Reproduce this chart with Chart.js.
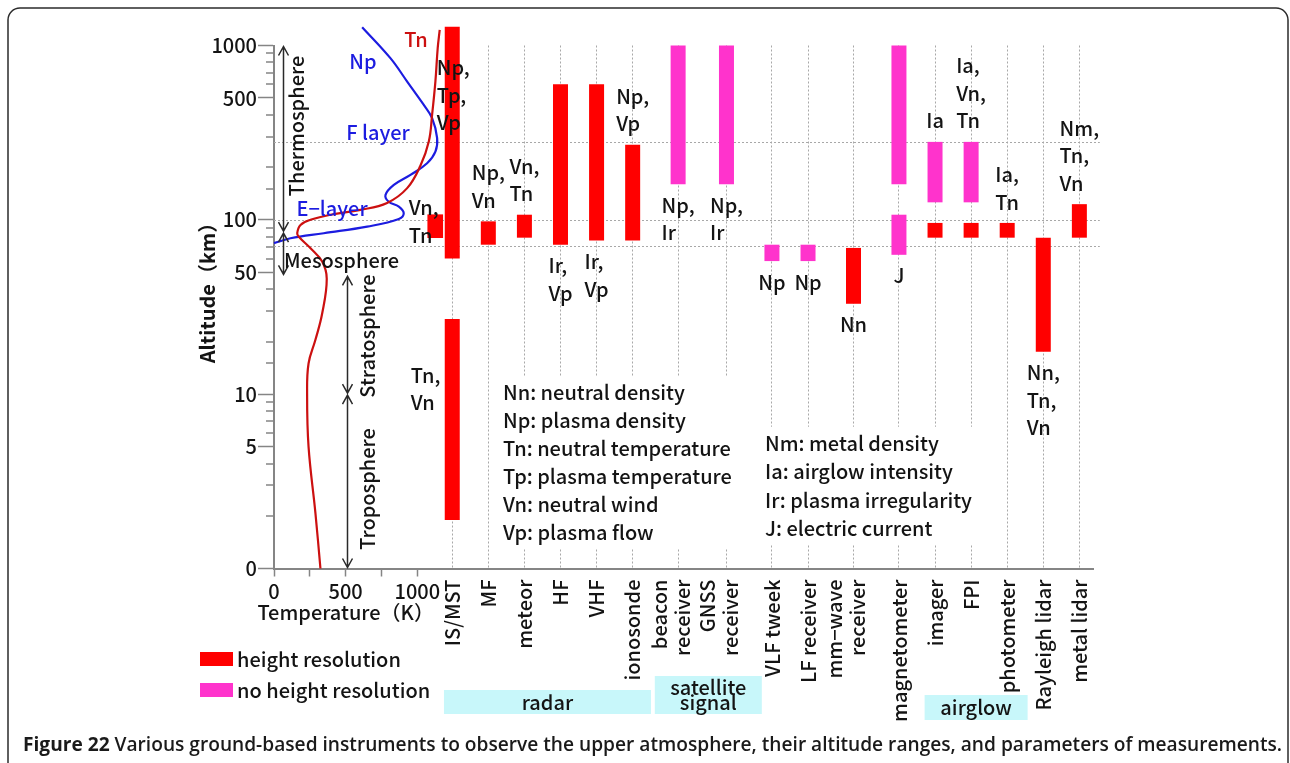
<!DOCTYPE html>
<html>
<head>
<meta charset="utf-8">
<script src="https://cdn.jsdelivr.net/npm/chart.js@4.4.1/dist/chart.umd.min.js"></script>
<style>
  html, body { margin: 0; padding: 0; background: #ffffff; overflow: hidden; }
  canvas { display: block; }
</style>
</head>
<body>
<canvas id="chart" width="1290" height="763"></canvas>
<script>
// ---- instruments ----
const instruments = ['IS/MST', 'MF', 'meteor', 'HF', 'VHF', 'ionosonde', 'beacon receiver', 'GNSS receiver',
  'VLF tweek', 'LF receiver', 'mm-wave receiver', 'magnetometer', 'imager', 'FPI', 'photometer',
  'Rayleigh lidar', 'metal lidar'];
const instrumentTicks = ['IS/MST', 'MF', 'meteor', 'HF', 'VHF', 'ionosonde', ['beacon', 'receiver'], ['GNSS', 'receiver'],
  'VLF tweek', 'LF receiver', ['mm\u2212wave', 'receiver'], 'magnetometer', 'imager', 'FPI', 'photometer',
  'Rayleigh lidar', 'metal lidar'];

// ---- altitude ranges in km, [bottom, top] ----
// with height resolution
const resolvedMain = [[60, 1280], [72, 98], [79, 107], [72, 600], [76, 600], [76, 270], null, null,
  null, null, [33, 69], null, [79, 96], [79, 96], [79, 96], [17.5, 79], [79, 123]];
const resolvedLower = [[1.9, 27], null, null, null, null, null, null, null,
  null, null, null, null, null, null, null, null, null];
const resolvedSide = [[79, 107], null, null, null, null, null, null, null,
  null, null, null, null, null, null, null, null, null];
// without height resolution
const unresolvedMain = [null, null, null, null, null, null, [160, 1000], [160, 1000],
  [58, 72], [58, 72], null, [160, 1000], [126, 280], [126, 280], null, null, null];
const unresolvedLower = [null, null, null, null, null, null, null, null,
  null, null, null, [63, 107], null, null, null, null, null];

// ---- measured parameters written next to each range ----
const resolvedMainNotes = ['Np,\nTp,\nVp', 'Np,\nVn', 'Vn,\nTn', 'Ir,\nVp', 'Ir,\nVp', 'Np,\nVp', '', '',
  '', '', 'Nn', '', '', '', 'Ia,\nTn', 'Nn,\nTn,\nVn', 'Nm,\nTn,\nVn'];
const resolvedLowerNotes = ['Tn,\nVn', '', '', '', '', '', '', '', '', '', '', '', '', '', '', '', ''];
const resolvedSideNotes = ['Vn,\nTn', '', '', '', '', '', '', '', '', '', '', '', '', '', '', '', ''];
const unresolvedMainNotes = ['', '', '', '', '', '', 'Np,\nIr', 'Np,\nIr',
  'Np', 'Np', '', '', 'Ia', 'Ia,\nVn,\nTn', '', '', ''];
const unresolvedLowerNotes = ['', '', '', '', '', '', '', '', '', '', '', 'J', '', '', '', '', ''];

// ---- background profiles ----
const tnTemp = [324, 289, 241, 231, 241, 289, 336, 368, 336, 255, 173, 162, 185, 255, 394, 603, 789, 929, 1022, 1080, 1103, 1126, 1142, 1156];
const tnAlt  = [1, 2.08, 5, 10, 15, 20.5, 29, 46, 57.6, 68.7, 80, 84, 93.5, 100, 107, 114, 125, 152, 205, 281, 401, 622, 966, 1230];
const npValue = [0, 115, 347, 650, 871, 905, 871, 800, 778, 836, 952, 1068, 1126, 1138, 1103, 1045, 929, 812, 615];
const npAlt   = [73.5, 78.4, 83.8, 91.4, 101, 109, 119, 127, 139, 158.5, 181, 211, 246, 294, 383, 456, 621, 846, 1274];

// ---- axes ----
const altTickValues = [1, 5, 10, 50, 100, 500, 1000];
const altTickText = ['0', '5', '10', '50', '100', '500', '1000'];
const tempTickValues = [0, 500, 1000];
const refAltitudes = [280, 100, 71];

// ---- atmospheric layers ----
const layerNames = ['Thermosphere', 'Mesosphere', 'Stratosphere', 'Troposphere'];
const layerTop = [1000, 85, 48, 10];
const layerBottom = [85, 48, 10, 1];

// ---- glossary and instrument groups ----
const glossaryA = ['Nn: neutral density', 'Np: plasma density', 'Tn: neutral temperature',
  'Tp: plasma temperature', 'Vn: neutral wind', 'Vp: plasma flow'];
const glossaryB = ['Nm: metal density', 'Ia: airglow intensity', 'Ir: plasma irregularity', 'J: electric current'];
const groupNames = ['radar', 'satellite\nsignal', 'airglow'];
const groupFirst = ['IS/MST', 'beacon receiver', 'imager'];
const groupLast = ['ionosonde', 'GNSS receiver', 'photometer'];

// ---- instrument slots: two-line names get a little more room around them ----
const lineCount = instrumentTicks.map(t => (Array.isArray(t) ? t.length : 1));
const slot = [];
lineCount.forEach((n, i) => {
  if (i === 0) { slot.push(0); return; }
  const a = lineCount[i - 1] > 1, b = n > 1;
  slot.push(slot[i - 1] + 1 + (a || b ? 0.26 : 0) + (a && b ? 0.08 : 0));
});
const atSlot = ranges => ranges.map((r, i) => ({ x: slot[i], y: r }));

// ---- styling ----
const FONT = '"Noto Sans CJK JP", "Noto Sans", sans-serif';
const TEXT_FONT = `500 20px ${FONT}`;
const RED = '#ff0000';
const PINK = '#ff33cc';
const TN_RED = '#cc1010';
const NP_BLUE = '#1c1ce0';
const AXIS = '#858585';
const GRID = '#a8a8a8';
const INK = '#141414';
const BOX = '#c8f7fa';

Chart.defaults.font.family = FONT;
Chart.defaults.font.size = 20;
Chart.defaults.font.weight = 500;
Chart.defaults.color = INK;

const notesBelow = new Set(['HF', 'VHF', 'mm-wave receiver', 'Rayleigh lidar', 'beacon receiver',
  'GNSS receiver', 'VLF tweek', 'LF receiver', 'magnetometer']);

function textAt(ctx, s, x, y, color, align, font) {
  ctx.font = font || TEXT_FONT;
  ctx.fillStyle = color || INK;
  ctx.textAlign = align || 'left';
  ctx.textBaseline = 'middle';
  ctx.fillText(s, x, y);
}

function rotatedText(ctx, s, x, y, font, align) {
  ctx.save();
  ctx.translate(x, y);
  ctx.rotate(-Math.PI / 2);
  textAt(ctx, s, 0, 0, INK, align || 'center', font);
  ctx.restore();
}

function doubleArrow(ctx, x, y1, y2) {
  ctx.beginPath();
  ctx.moveTo(x, y1); ctx.lineTo(x, y2);
  ctx.moveTo(x - 5, y1 + 9); ctx.lineTo(x, y1); ctx.lineTo(x + 5, y1 + 9);
  ctx.moveTo(x - 5, y2 - 9); ctx.lineTo(x, y2); ctx.lineTo(x + 5, y2 - 9);
  ctx.stroke();
}

function drawNote(ctx, el, text, mode) {
  const lines = text.split('\n');
  const LH = 27.5;
  ctx.font = TEXT_FONT;
  const w = Math.max(...lines.map(l => ctx.measureText(l).width));
  const top = Math.min(el.y, el.base);
  const bot = Math.max(el.y, el.base);
  const left = el.x - el.width / 2;
  let x0, y0;
  if (mode === 'over') { x0 = left - 8; y0 = top + 41; }
  else if (mode === 'beside') { x0 = left - 19; y0 = top - 7; }
  else if (mode === 'aside') { x0 = left - 34; y0 = top + 56; }
  else if (mode === 'below') { x0 = el.x - w / 2; y0 = bot + 21; }
  else { x0 = el.x - w / 2; y0 = top - 21 - (lines.length - 1) * LH; }
  lines.forEach((l, i) => textAt(ctx, l, x0, y0 + i * LH, INK, 'left'));
}

const overlay = {
  id: 'overlay',
  beforeDatasetsDraw(chart) {
    const { ctx, chartArea: a, scales: { y } } = chart;
    ctx.save();
    ctx.strokeStyle = GRID;
    ctx.lineWidth = 1;
    ctx.setLineDash([2, 2]);
    refAltitudes.forEach(v => {
      const py = Math.round(y.getPixelForValue(v)) + 0.5;
      ctx.beginPath();
      ctx.moveTo(a.left, py);
      ctx.lineTo(a.right + 6, py);
      ctx.stroke();
    });
    ctx.restore();
  },
  afterDraw(chart) {
    const { ctx, scales: { y, x, xT } } = chart;
    ctx.save();

    // minor altitude ticks
    ctx.strokeStyle = AXIS;
    ctx.lineWidth = 1.5;
    y.ticks.forEach(t => {
      if (t.label || t.value >= y.max) return;
      const py = Math.round(y.getPixelForValue(t.value));
      ctx.beginPath();
      ctx.moveTo(y.right - 8, py);
      ctx.lineTo(y.right, py);
      ctx.stroke();
    });

    // instrument names, read upwards and hanging from the axis;
    // two-line names sit with their second line on the instrument
    instrumentTicks.forEach((lab, i) => {
      const px = x.getPixelForValue(slot[i]);
      const lines = Array.isArray(lab) ? lab : [lab];
      const offs = lines.length === 2 ? [-19, 4] : [0];
      lines.forEach((l, k) => rotatedText(ctx, l, px + offs[k], x.top + 11, undefined, 'right'));
    });

    // parameter notes beside the ranges
    const noteSets = [
      [0, resolvedSideNotes, () => 'beside'],
      [1, resolvedMainNotes, j => (j === 0 ? 'over' : null)],
      [2, resolvedLowerNotes, () => 'aside'],
      [3, unresolvedMainNotes, () => null],
      [4, unresolvedLowerNotes, () => null]
    ];
    noteSets.forEach(([di, notes, special]) => {
      const meta = chart.getDatasetMeta(di);
      notes.forEach((n, j) => {
        if (!n || !meta.data[j]) return;
        const el = meta.data[j].getProps(['x', 'y', 'base', 'width'], true);
        const mode = special(j) || (notesBelow.has(instruments[j]) ? 'below' : 'above');
        drawNote(ctx, el, n, mode);
      });
    });

    // profile labels
    textAt(ctx, 'Tn', 416, 39, TN_RED, 'center');
    textAt(ctx, 'Np', 363, 61, NP_BLUE, 'center');
    textAt(ctx, 'F layer', 378, 132, NP_BLUE, 'center');
    textAt(ctx, 'E\u2212layer', 332, 208, NP_BLUE, 'center');

    // atmospheric layers
    ctx.strokeStyle = '#2a2a2a';
    ctx.lineWidth = 1.5;
    const arrowT = [60, 60, 510, 510];
    layerNames.forEach((n, k) => {
      const ax = Math.round(xT.getPixelForValue(arrowT[k])) + 0.5;
      doubleArrow(ctx, ax, y.getPixelForValue(layerTop[k]) + 1, y.getPixelForValue(layerBottom[k]) - 1);
    });
    rotatedText(ctx, layerNames[0], 296, 126);
    textAt(ctx, layerNames[1], 284, 260, INK, 'left');
    rotatedText(ctx, layerNames[2], 367, 336);
    rotatedText(ctx, layerNames[3], 367, 489);

    // axis titles
    rotatedText(ctx, 'Altitude\uff08km\uff09', 207, 288, `bold 20px ${FONT}`);
    textAt(ctx, 'Temperature\uff08K\uff09', xT.getPixelForValue(500), 612, INK, 'center');

    // glossary blocks
    const glossary = (lines, gx, gy, lh) => {
      ctx.font = TEXT_FONT;
      const w = Math.max(...lines.map(l => ctx.measureText(l).width));
      ctx.fillStyle = '#ffffff';
      ctx.fillRect(gx - 4, gy - lh / 2 - 2, w + 8, lh * lines.length + 4);
      lines.forEach((l, i) => textAt(ctx, l, gx, gy + i * lh, INK, 'left'));
    };
    glossary(glossaryA, 503, 392, 28);
    glossary(glossaryB, 765, 443, 28.5);

    // instrument groups
    const boxW = [207, 107, 103], boxTop = [690, 676, 695], boxH = [24, 38, 25], boxShift = [5, 6, 5];
    groupNames.forEach((g, k) => {
      const cx = (x.getPixelForValue(slot[instruments.indexOf(groupFirst[k])]) +
                  x.getPixelForValue(slot[instruments.indexOf(groupLast[k])])) / 2 + boxShift[k];
      ctx.fillStyle = BOX;
      ctx.fillRect(cx - boxW[k] / 2, boxTop[k], boxW[k], boxH[k]);
      const lines = g.split('\n');
      const lh = 15;
      const cy = boxTop[k] + boxH[k] / 2 - (lines.length - 1) * lh / 2;
      lines.forEach((l, i) => textAt(ctx, l, cx, cy + i * lh, INK, 'center'));
    });

    // legend
    const sets = chart.data.datasets;
    [[sets[1].backgroundColor, sets[1].label, 659], [sets[3].backgroundColor, sets[3].label, 690]].forEach(([c, l, ly]) => {
      ctx.fillStyle = c;
      ctx.fillRect(200, ly - 7, 33, 14);
      textAt(ctx, l, 237, ly, INK, 'left');
    });

    // caption
    const capBold = 'Figure 22';
    const capText = ' Various ground-based instruments to observe the upper atmosphere, their altitude ranges, and parameters of measurements.';
    const capFont = (w, s) => `${w} ${s}px "Open Sans", "Noto Sans", sans-serif`;
    ctx.font = capFont(700, 20); const wb = ctx.measureText(capBold).width;
    ctx.font = capFont(600, 20); const wr = ctx.measureText(capText).width;
    const s = 20 * 1260 / (wb + wr);
    ctx.textBaseline = 'alphabetic';
    ctx.textAlign = 'left';
    ctx.fillStyle = '#1a1a1a';
    ctx.font = capFont(700, s); ctx.fillText(capBold, 23, 751);
    const wb2 = ctx.measureText(capBold).width;
    ctx.font = capFont(600, s); ctx.fillText(capText, 23 + wb2, 751);

    // figure frame
    ctx.strokeStyle = '#2b2b2b';
    ctx.lineWidth = 1.5;
    ctx.beginPath();
    ctx.moveTo(8, 780);
    ctx.lineTo(8, 20);
    ctx.arcTo(8, 8, 20, 8, 12);
    ctx.lineTo(1276, 8);
    ctx.arcTo(1288, 8, 1288, 20, 12);
    ctx.lineTo(1288, 780);
    ctx.stroke();

    ctx.restore();
  }
};

// ranges centred on their instrument
const centredBar = { borderWidth: 0, grouped: false, barPercentage: 0.5, categoryPercentage: 1,
  maxBarThickness: 15, clip: false, xAxisID: 'x', yAxisID: 'y' };

new Chart(document.getElementById('chart'), {
  type: 'bar',
  data: {
    datasets: [
      // narrow range drawn just beside the main IS/MST column
      { label: 'height resolution', data: atSlot(resolvedSide), backgroundColor: RED, borderWidth: 0,
        grouped: true, barThickness: 34, maxBarThickness: 15, clip: false, xAxisID: 'x', yAxisID: 'y' },
      { ...centredBar, label: 'height resolution', data: atSlot(resolvedMain), backgroundColor: RED },
      { ...centredBar, label: 'height resolution', data: atSlot(resolvedLower), backgroundColor: RED },
      { ...centredBar, label: 'no height resolution', data: atSlot(unresolvedMain), backgroundColor: PINK },
      { ...centredBar, label: 'no height resolution', data: atSlot(unresolvedLower), backgroundColor: PINK },
      { type: 'line', label: 'Tn', data: tnTemp.map((t, i) => ({ x: t, y: tnAlt[i] })),
        xAxisID: 'xT', yAxisID: 'y', borderColor: TN_RED, borderWidth: 2.2, pointRadius: 0,
        tension: 0.4, fill: false, clip: false },
      { type: 'line', label: 'Np', data: npValue.map((v, i) => ({ x: v, y: npAlt[i] })),
        xAxisID: 'xT', yAxisID: 'y', borderColor: NP_BLUE, borderWidth: 2.2, pointRadius: 0,
        tension: 0.4, fill: false, clip: false }
    ]
  },
  options: {
    responsive: false,
    animation: false,
    devicePixelRatio: 1,
    events: [],
    layout: { padding: { left: 180, right: 196.2, top: 45.5, bottom: 34.5 } },
    plugins: { legend: { display: false }, tooltip: { enabled: false } },
    scales: {
      y: {
        type: 'logarithmic', position: 'left', min: 1, max: 1000, stacked: false,
        afterFit: s => { s.width = 94; s.paddingTop = 0; s.paddingBottom = 0; },
        grid: {
          drawOnChartArea: false, tickLength: 16, tickWidth: 1.5,
          tickColor: c => (c.tick && c.tick.label ? AXIS : 'rgba(0,0,0,0)')
        },
        border: { color: AXIS, width: 2 },
        ticks: {
          autoSkip: false, padding: 1, color: INK, font: { size: 20, weight: 500 },
          callback: v => {
            const k = altTickValues.findIndex(t => Math.abs(v - t) < t * 1e-6);
            return k >= 0 ? altTickText[k] : '';
          }
        }
      },
      xT: {
        type: 'linear', position: 'bottom', stack: 'base', stackWeight: 158.4, min: 0, max: 1105,
        offset: false,
        afterFit: s => { s.height = 160; s.paddingLeft = 0; s.paddingRight = 0; },
        grid: { offset: false, drawOnChartArea: false, tickLength: 8, tickWidth: 1.5, tickColor: AXIS },
        border: { color: AXIS, width: 2 },
        ticks: {
          stepSize: 250, includeBounds: false, autoSkip: false, maxRotation: 0, padding: 3,
          color: INK, font: { size: 20, weight: 500 },
          callback: v => (tempTickValues.includes(v) ? String(v) : '')
        }
      },
      x: {
        type: 'linear', position: 'bottom', stack: 'base', stackWeight: 661.4,
        min: -0.55, max: slot[slot.length - 1] + 0.4, offset: false,
        afterBuildTicks: s => { s.ticks = slot.map(v => ({ value: v })); },
        afterFit: s => { s.height = 160; s.paddingLeft = 0; s.paddingRight = 0; },
        grid: { offset: false, drawTicks: false, color: GRID, lineWidth: 1 },
        border: { color: AXIS, width: 2, dash: [2, 2] },
        ticks: { display: false, autoSkip: false }
      }
    }
  },
  plugins: [overlay]
});
</script>
</body>
</html>
